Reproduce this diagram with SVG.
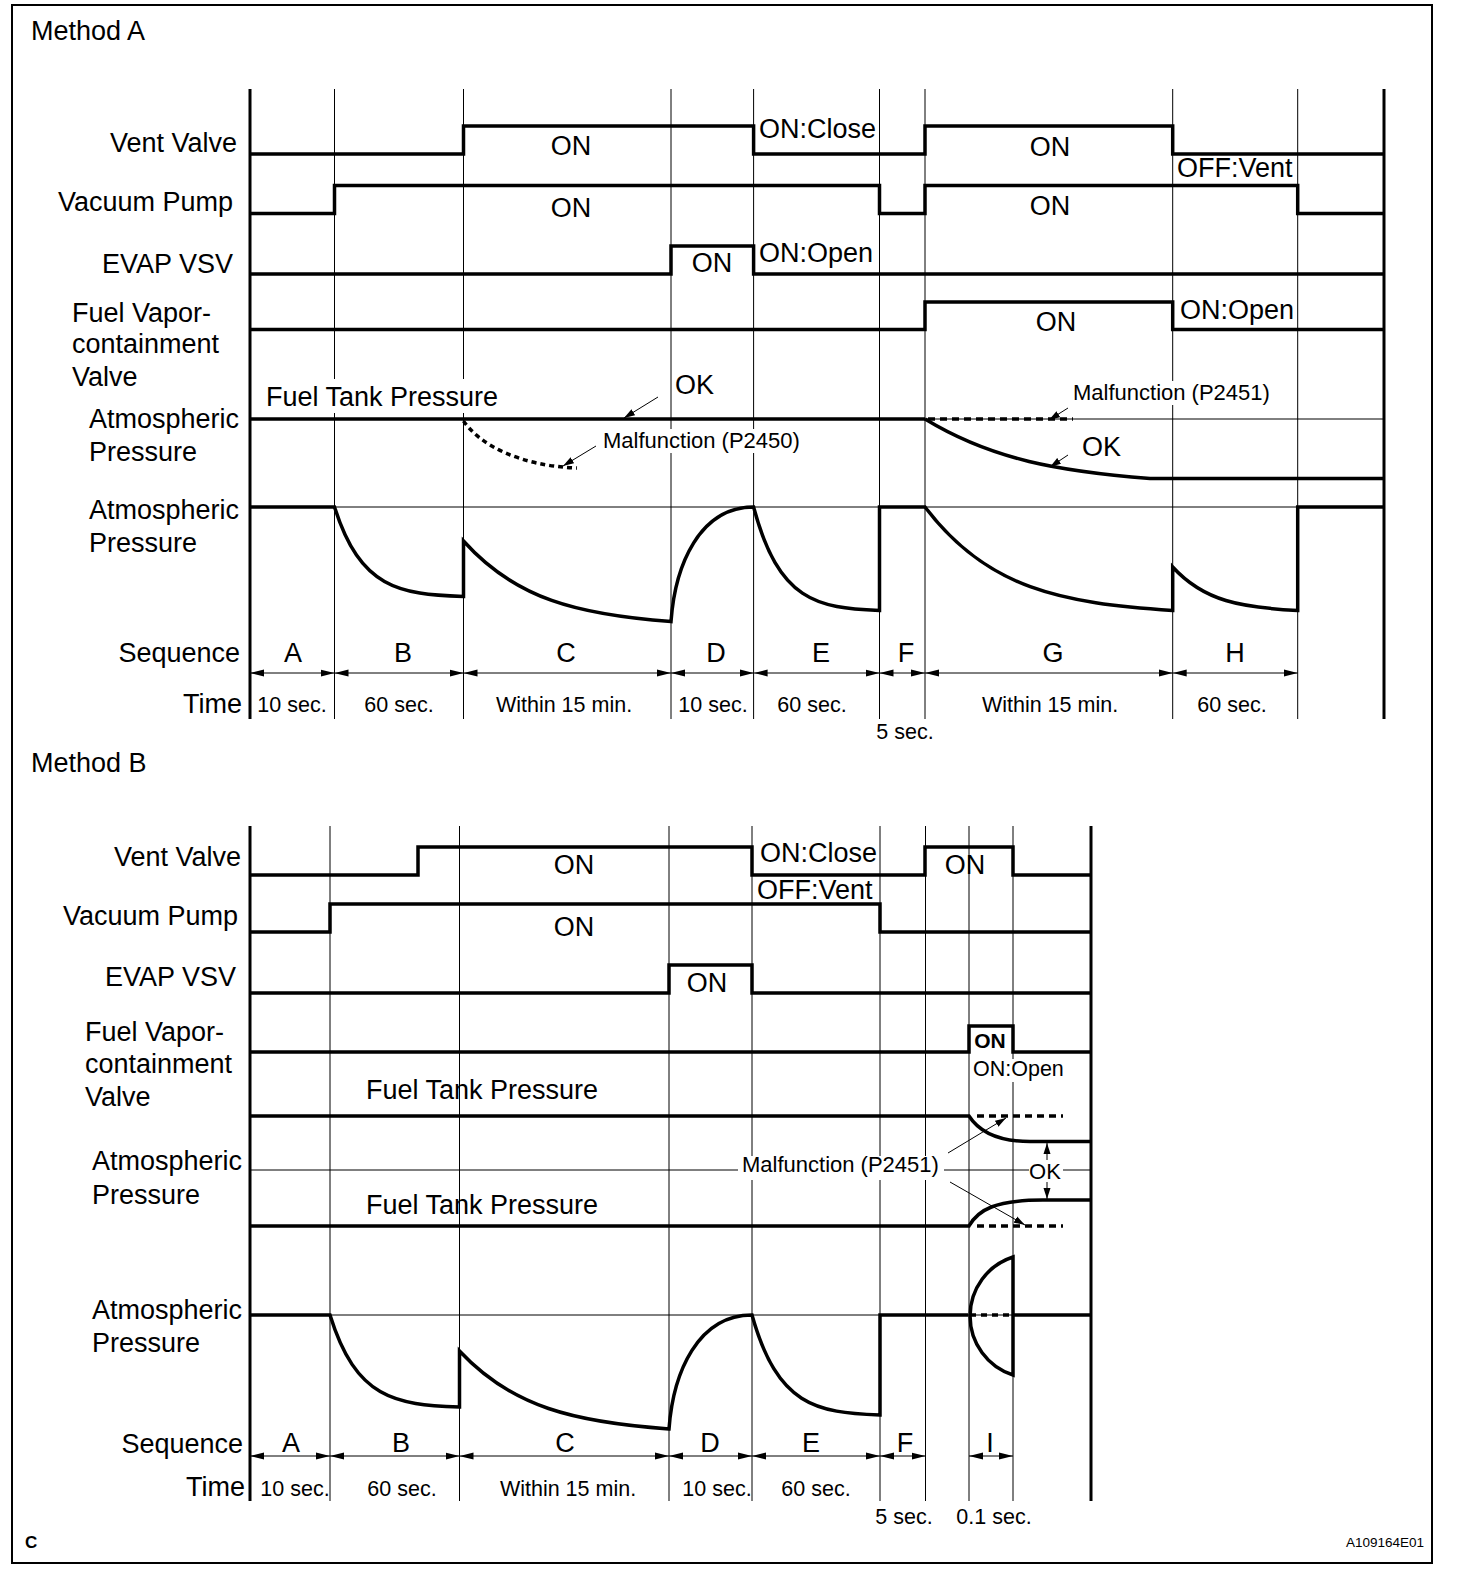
<svg xmlns="http://www.w3.org/2000/svg" width="1472" height="1580" viewBox="0 0 1472 1580">
<style>
text{font-family:"Liberation Sans",Arial,Helvetica,sans-serif;fill:#000}
.l{font-size:27px}
.t{font-size:21.5px}
.m{font-size:22px}
.s{font-size:27px;text-anchor:middle}
.e{text-anchor:end}
.c{text-anchor:middle}
.sig{fill:none;stroke:#000;stroke-width:3.5;stroke-linejoin:miter}
.dash{fill:none;stroke:#000;stroke-width:3.5;stroke-dasharray:7 5}
.dot{fill:none;stroke:#000;stroke-width:3.5;stroke-dasharray:5 4}
.thin{fill:none;stroke:#000;stroke-width:1}
.axis{fill:none;stroke:#000;stroke-width:3}
.seq{fill:none;stroke:#000;stroke-width:1;marker-start:url(#sa);marker-end:url(#sa)}
.ann{fill:none;stroke:#000;stroke-width:1;marker-end:url(#ha)}
.wb{fill:#fff;stroke:none}
</style>
<defs>
<marker id="sa" viewBox="0 -4 14 8" refX="14" refY="0" markerWidth="14" markerHeight="8" markerUnits="userSpaceOnUse" orient="auto-start-reverse"><path d="M0,-3.5 L14,0 L0,3.5 z" fill="#000"/></marker>
<marker id="ha" viewBox="0 -4 11 8" refX="11" refY="0" markerWidth="11" markerHeight="8" markerUnits="userSpaceOnUse" orient="auto-start-reverse"><path d="M0,-3.5 L11,0 L0,3.5 z" fill="#000"/></marker>
</defs>
<rect x="12" y="5" width="1420" height="1558" fill="#fff" stroke="#000" stroke-width="2"/>

<!-- ================= METHOD A ================= -->
<g id="methodA-grid">
<path class="thin" d="M334.5,89V719 M463.5,89V719 M671,89V719 M753.6,89V719 M879.5,89V719 M925,89V719 M1172.7,89V719 M1297.7,89V719"/>
<path class="thin" d="M250,419H1384 M250,507H1384"/>
<path class="axis" d="M250,89V719 M1384,89V719"/>
</g>
<g id="methodA-labels">
<text class="l" x="31" y="40">Method A</text>
<text class="l e" x="237" y="152">Vent Valve</text>
<text class="l e" x="233" y="211">Vacuum Pump</text>
<text class="l e" x="233" y="273">EVAP VSV</text>
<text class="l" x="72" y="322">Fuel Vapor-</text>
<text class="l" x="72" y="353">containment</text>
<text class="l" x="72" y="386">Valve</text>
<text class="l" x="89" y="428">Atmospheric</text>
<text class="l" x="89" y="461">Pressure</text>
<text class="l" x="89" y="519">Atmospheric</text>
<text class="l" x="89" y="552">Pressure</text>
<text class="l e" x="240" y="662">Sequence</text>
<text class="l e" x="242" y="713">Time</text>
</g>
<g id="methodA-vent-valve">
<path class="sig" d="M250,154H463.5V126H753.6V154H925V126H1172.7V154H1384"/>
<text class="l c" x="571" y="155">ON</text>
<text class="l" x="759" y="138">ON:Close</text>
<text class="l c" x="1050" y="156">ON</text>
<text class="l" x="1177" y="177">OFF:Vent</text>
</g>
<g id="methodA-vacuum-pump">
<path class="sig" d="M250,213.6H334.5V185.5H879.5V213.6H925V185.5H1297.7V213.6H1384"/>
<text class="l c" x="571" y="217">ON</text>
<text class="l c" x="1050" y="215">ON</text>
</g>
<g id="methodA-evap-vsv">
<path class="sig" d="M250,274H671V246H753.6V274H1384"/>
<text class="l c" x="712" y="272">ON</text>
<text class="l" x="759" y="262">ON:Open</text>
</g>
<g id="methodA-fuel-vapor-valve">
<path class="sig" d="M250,329.5H925V302H1172.7V329.5H1384"/>
<text class="l c" x="1056" y="331">ON</text>
<text class="l" x="1180" y="319">ON:Open</text>
</g>
<g id="methodA-fuel-tank-pressure">
<rect class="wb" x="262" y="379" width="242" height="34"/>
<text class="l" x="266" y="406">Fuel Tank Pressure</text>
<path class="sig" d="M250,419H925"/>
<path class="dot" d="M463.5,421 C480,445 520,466 577,468"/>
<path class="dash" d="M928,419H1073"/>
<path class="sig" d="M925,419 C992.5,460.1 1060,471.2 1150,478.6 H1384"/>
<text class="l" x="675" y="394">OK</text>
<rect class="wb" x="600" y="429" width="203" height="24"/>
<text class="m" x="603" y="448">Malfunction (P2450)</text>
<rect class="wb" x="1070" y="381" width="203" height="24"/>
<text class="m" x="1073" y="400">Malfunction (P2451)</text>
<text class="l" x="1082" y="456">OK</text>
</g>
<g id="methodA-atmospheric-pressure">
<path class="sig" d="M250,507H334.5 C360.3,588.4 399,594.3 463.5,596.5 V541 C515.4,599 577.6,614.6 671,621.6 C675.1,564.3 699.9,507 753.6,507 C778.8,601.2 816.6,607.9 879.5,610.5 V507H925 C986.9,588.8 1061.2,603.3 1172.7,610.5 V567 C1204,601.4 1241.5,607.5 1297.7,610.5 V507H1384"/>
</g>
<g id="methodA-sequence">
<path class="seq" d="M250,673H334.5"/>
<path class="seq" d="M334.5,673H463.5"/>
<path class="seq" d="M463.5,673H671"/>
<path class="seq" d="M671,673H753.6"/>
<path class="seq" d="M753.6,673H879.5"/>
<path class="seq" d="M879.5,673H925"/>
<path class="seq" d="M925,673H1172.7"/>
<path class="seq" d="M1172.7,673H1297.7"/>
<text class="s" x="293" y="662">A</text>
<text class="s" x="403" y="662">B</text>
<text class="s" x="566" y="662">C</text>
<text class="s" x="716" y="662">D</text>
<text class="s" x="821" y="662">E</text>
<text class="s" x="906" y="662">F</text>
<text class="s" x="1053" y="662">G</text>
<text class="s" x="1235" y="662">H</text>
</g>
<g id="methodA-time">
<text class="t c" x="292" y="712">10 sec.</text>
<text class="t c" x="399" y="712">60 sec.</text>
<text class="t c" x="564" y="712">Within 15 min.</text>
<text class="t c" x="713" y="712">10 sec.</text>
<text class="t c" x="812" y="712">60 sec.</text>
<text class="t c" x="905" y="739">5 sec.</text>
<text class="t c" x="1050" y="712">Within 15 min.</text>
<text class="t c" x="1232" y="712">60 sec.</text>
</g>

<!-- ================= METHOD B ================= -->
<g id="methodB-grid">
<path class="thin" d="M330,826V1501 M459.5,826V1501 M669,826V1501 M752,826V1501 M880,826V1501 M925.5,826V1501 M969,826V1501 M1013,826V1501"/>
<path class="thin" d="M250,1170H1091 M250,1315H1091"/>
<path class="axis" d="M250,826V1501 M1091,826V1501"/>
</g>
<g id="methodB-labels">
<text class="l" x="31" y="772">Method B</text>
<text class="l e" x="241" y="866">Vent Valve</text>
<text class="l e" x="238" y="925">Vacuum Pump</text>
<text class="l e" x="236" y="986">EVAP VSV</text>
<text class="l" x="85" y="1041">Fuel Vapor-</text>
<text class="l" x="85" y="1073">containment</text>
<text class="l" x="85" y="1106">Valve</text>
<text class="l" x="92" y="1170">Atmospheric</text>
<text class="l" x="92" y="1204">Pressure</text>
<text class="l" x="92" y="1319">Atmospheric</text>
<text class="l" x="92" y="1352">Pressure</text>
<text class="l e" x="243" y="1453">Sequence</text>
<text class="l e" x="245" y="1496">Time</text>
</g>
<g id="methodB-vent-valve">
<path class="sig" d="M250,875H418V847H752V875H925V847H1013V875H1091"/>
<text class="l c" x="574" y="874">ON</text>
<text class="l" x="760" y="862">ON:Close</text>
<text class="l c" x="965" y="874">ON</text>
<text class="l" x="757" y="899">OFF:Vent</text>
</g>
<g id="methodB-vacuum-pump">
<path class="sig" d="M250,932H330V904H880V932H1091"/>
<text class="l c" x="574" y="936">ON</text>
</g>
<g id="methodB-evap-vsv">
<path class="sig" d="M250,993H669V965H752V993H1091"/>
<text class="l c" x="707" y="992">ON</text>
</g>
<g id="methodB-fuel-vapor-valve">
<path class="sig" d="M250,1052H969V1026H1013V1052H1091"/>
<text x="990" y="1048" style="font-size:21px;font-weight:bold;text-anchor:middle">ON</text>
<rect class="wb" x="971" y="1059" width="95" height="23"/>
<text x="973" y="1076" style="font-size:21.5px">ON:Open</text>
</g>
<g id="methodB-fuel-tank-pressure">
<text class="l" x="366" y="1099">Fuel Tank Pressure</text>
<text class="l" x="366" y="1214">Fuel Tank Pressure</text>
<path class="sig" d="M250,1116H969 C978,1130 995,1141.5 1030,1141.5 H1091"/>
<path class="dash" d="M977,1116H1063"/>
<path class="sig" d="M250,1226H969 C978,1210 995,1200 1043,1200 H1091"/>
<path class="dash" d="M977,1226H1063"/>
<rect class="wb" x="738" y="1156" width="206" height="24"/>
<text class="m" x="742" y="1172">Malfunction (P2451)</text>
</g>
<g id="methodB-atmospheric-pressure">
<path class="sig" d="M250,1315H330 C355.9,1398.7 394.8,1404.7 459.5,1407 V1351 C511.9,1407.2 574.7,1422.2 669,1429 C673.2,1372 698,1315 752,1315 C777.6,1406 816,1412.5 880,1415 V1315H968"/>
<path class="sig" d="M1013,1257 A62,62 0 0 0 1013,1375 Z"/>
<path class="sig" d="M1013,1315H1091"/>
<path class="dash" d="M970,1315H1011" style="stroke-dasharray:6 5"/>
</g>
<g id="methodB-sequence">
<path class="seq" d="M250,1456H330"/>
<path class="seq" d="M330,1456H459.5"/>
<path class="seq" d="M459.5,1456H669"/>
<path class="seq" d="M669,1456H752"/>
<path class="seq" d="M752,1456H880"/>
<path class="seq" d="M880,1456H925.5"/>
<path class="seq" d="M969,1456H1013"/>
<text class="s" x="291" y="1452">A</text>
<text class="s" x="401" y="1452">B</text>
<text class="s" x="565" y="1452">C</text>
<text class="s" x="710" y="1452">D</text>
<text class="s" x="811" y="1452">E</text>
<text class="s" x="905" y="1452">F</text>
<text class="s" x="990" y="1452">I</text>
</g>
<g id="methodB-time">
<text class="t c" x="295" y="1496">10 sec.</text>
<text class="t c" x="402" y="1496">60 sec.</text>
<text class="t c" x="568" y="1496">Within 15 min.</text>
<text class="t c" x="717" y="1496">10 sec.</text>
<text class="t c" x="816" y="1496">60 sec.</text>
<text class="t c" x="904" y="1524">5 sec.</text>
<text class="t c" x="994" y="1524">0.1 sec.</text>
</g>

<g id="connectors">
<path class="ann" d="M658,397 L624,418"/>
<path class="ann" d="M596,446 L563,466"/>
<path class="ann" d="M1068,408 L1049,420"/>
<path class="ann" d="M1068,455 L1050,467"/>
<path class="ann" d="M948,1153 L1006,1118"/>
<path class="ann" d="M950,1182 L1025,1225"/>
<path class="ann" d="M1047,1160 V1143"/>
<path class="ann" d="M1047,1182 V1199"/>
</g>
<rect class="wb" x="1029" y="1161" width="34" height="20"/>
<text class="m c" x="1045" y="1179">OK</text>

<g id="footer">
<text x="25" y="1548" style="font-size:17px;font-weight:bold">C</text>
<text x="1424" y="1547" style="font-size:13.5px;text-anchor:end">A109164E01</text>
</g>
</svg>
